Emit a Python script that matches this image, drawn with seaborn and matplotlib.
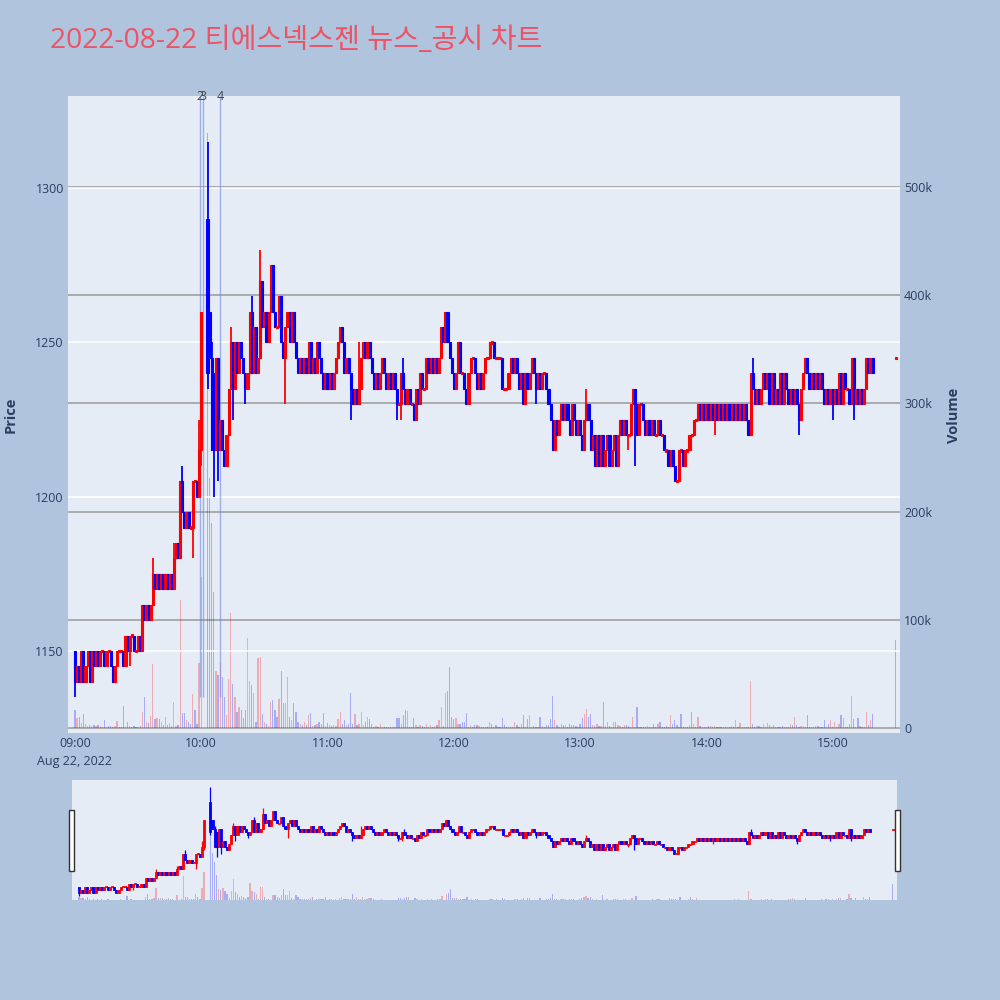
import numpy as np
import pandas as pd
import matplotlib
matplotlib.use("Agg")
import matplotlib.pyplot as plt
import matplotlib.transforms as mtransforms
from matplotlib.patches import Rectangle
import seaborn as sns

sns.set_theme(style="white")
plt.rcParams['font.family'] = ['Open Sans', 'Noto Sans CJK KR', 'DejaVu Sans']

# ---- data: 1-minute candles, minute 0 = 09:00 (closing auction at 15:30) ----
close_09 = [1140, 1145, 1140, 1150, 1140, 1145, 1150, 1140, 1150, 1145,
            1150, 1145, 1150, 1150, 1145, 1150, 1150, 1145, 1140, 1145,
            1150, 1150, 1150, 1145, 1155, 1150, 1155, 1155, 1150, 1150,
            1155, 1150, 1165, 1160, 1165, 1160, 1165, 1175, 1170, 1175,
            1170, 1175, 1170, 1175, 1170, 1175, 1170, 1180, 1185, 1180,
            1205, 1195, 1190, 1195, 1190, 1190, 1205, 1205, 1200, 1215]
close_10 = [1260, np.nan, np.nan, 1240, 1245, 1215, 1215, 1245, 1215, 1225,
            1215, 1210, 1220, 1235, 1250, 1235, 1250, 1240, 1250, 1245,
            1240, 1235, 1240, 1260, 1240, 1255, 1240, 1245, 1270, 1255,
            1260, 1250, 1260, 1275, 1260, 1255, 1255, 1265, 1250, 1245,
            1255, 1260, 1250, 1260, 1250, 1245, 1240, 1245, 1240, 1245,
            1240, 1250, 1240, 1245, 1240, 1250, 1245, 1240, 1235, 1240]
close_11 = [1235, 1240, 1235, 1240, 1245, 1250, 1255, 1250, 1240, 1245,
            1240, 1235, 1230, 1235, 1230, 1235, 1245, 1250, 1245, 1250,
            1245, 1240, 1235, 1240, 1235, 1240, 1245, 1240, 1235, 1240,
            1235, 1240, 1235, 1230, 1230, 1240, 1235, 1230, 1235, 1230,
            1230, 1225, 1235, 1230, 1240, 1235, 1235, 1245, 1240, 1245,
            1240, 1245, 1240, 1245, 1255, 1250, 1260, 1250, 1245, 1240]
close_12 = [1235, 1240, 1250, 1240, 1240, 1235, 1230, 1240, 1245, 1245,
            1240, 1235, 1240, 1235, 1240, 1245, 1245, 1250, 1250, 1245,
            1245, 1245, 1245, 1235, 1235, 1235, 1240, 1245, 1240, 1245,
            1240, 1235, 1240, 1230, 1240, 1235, 1240, 1245, 1240, 1235,
            1240, 1235, 1240, 1240, 1235, 1230, 1225, 1215, 1225, 1220,
            1225, 1230, 1225, 1230, 1225, 1220, 1230, 1225, 1220, 1225]
close_13 = [1220, 1215, 1225, 1230, 1225, 1215, 1220, 1210, 1220, 1210,
            1220, 1210, 1215, 1220, 1210, 1215, 1220, 1210, 1220, 1225,
            1220, 1225, 1220, 1220, 1230, 1235, 1230, 1220, 1230, 1230,
            1225, 1220, 1225, 1220, 1225, 1220, 1220, 1225, 1220, 1220,
            1215, 1215, 1210, 1215, 1210, 1205, 1205, 1215, 1215, 1210,
            1215, 1215, 1220, 1220, 1225, 1225, 1230, 1225, 1230, 1225]
close_14 = [1230, 1225, 1230, 1225, 1230, 1225, 1230, 1225, 1230, 1225,
            1230, 1225, 1230, 1225, 1230, 1225, 1230, 1225, 1230, 1225,
            1220, 1240, 1235, 1230, 1235, 1230, 1235, 1240, 1235, 1240,
            1230, 1240, 1230, 1235, 1230, 1240, 1230, 1240, 1235, 1230,
            1235, 1230, 1235, 1230, 1225, 1235, 1240, 1245, 1240, 1235,
            1240, 1235, 1240, 1235, 1240, 1235, 1230, 1235, 1230, 1235]
close_15 = [1230, 1235, 1230, 1240, 1230, 1240, 1235, 1235, 1230, 1245,
            1230, 1235, 1230, 1235, 1230, 1235, 1245, 1240, 1245, 1240]
close_auction = [1245]

# volume in thousands of shares
vol_09 = [16.5, 9, 10, 5, 13, 4, 2, 3, 2, 3,
          2, 3, 2, 1, 7, 1, 2, 2, 1, 2,
          6.5, 1, 1, 20, 1, 6, 2, 1, 2, 1,
          1, 2, 15, 29, 6, 5, 11, 59, 8, 9,
          8, 6, 3, 10, 3, 5, 2, 24, 2, 3,
          118, 13.5, 14, 7, 6, 4, 31, 16.5, 4, 60]
vol_10 = [140, 0, 0, 550, 231, 189, 126, 53, 49, 60,
          47, 29, 12, 45, 106, 41, 29, 15, 19, 17,
          9, 16.5, 83, 43, 40, 32, 6, 65, 66, 12.5,
          6, 4, 2, 24, 26, 17, 10, 27, 53, 23,
          23, 47, 10, 7, 23, 15, 6, 4, 3, 6,
          3, 12, 14, 2, 3, 4, 6, 4, 14, 2]
vol_11 = [5, 3, 2, 3, 2, 8, 15, 4, 7, 3,
          4, 32, 4, 13, 3, 4, 15, 3, 6, 10,
          8, 4, 1, 2, 1, 4, 1, 1, 1, 1,
          1, 1, 1, 9, 9, 4, 12, 17, 16, 1,
          1, 9, 3, 1, 3, 2, 1, 4, 1, 3,
          1, 2, 3, 7, 19, 2, 32, 34, 56, 10]
vol_12 = [8, 9, 4, 4, 6, 6, 14, 1, 3, 1,
          3, 3, 2, 1, 1, 1, 1, 6, 4, 1,
          3, 1, 1, 9, 3, 1, 1, 1, 1, 6,
          3, 1, 4, 12, 1, 8, 12, 1, 2, 1,
          1, 10, 2, 1, 3, 3, 8, 30, 7, 3,
          1, 4, 3, 3, 1, 4, 3, 3, 2, 1]
vol_13 = [4, 9, 13, 18, 10, 13, 3, 2, 4, 2,
          2, 24, 2, 6, 2, 1, 6, 6, 3, 2,
          1, 3, 3, 2, 1, 10, 1, 19, 1, 1,
          1, 1, 2, 1, 1, 4, 1, 4, 6, 1,
          1, 2, 1, 12, 4, 7, 3, 1, 13, 1,
          1, 1, 3, 15, 4, 1, 10, 2, 1, 1]
vol_14 = [1, 2, 2, 1, 2, 1, 1, 1, 1, 1,
          1, 1, 2, 1, 7, 1, 5, 1, 1, 1,
          1, 43, 4, 1, 2, 2, 1, 4, 1, 5,
          3, 1, 3, 1, 1, 1, 2, 1, 1, 1,
          4, 3, 10, 3, 1, 2, 2, 1, 12, 1,
          1, 1, 2, 2, 1, 1, 7, 1, 4, 7]
vol_15 = [1, 6, 1, 4, 12, 9, 1, 1, 4, 30,
          8, 1, 9, 2, 1, 1, 15, 3, 7, 13]
vol_auction = [81]

open_fix = {0: 1150, 63: 1290, 64: 1260, 66: 1240, 390: 1245}
high_fix = {37: 1180, 47: 1185, 51: 1210, 59: 1225, 63: 1315, 65: 1250, 74: 1255,
            84: 1265, 88: 1280, 135: 1250, 156: 1245, 243: 1235, 322: 1245}
low_fix = {0: 1135, 26: 1145, 56: 1180, 60: 1210, 63: 1235, 66: 1200, 68: 1205,
           75: 1225, 81: 1230, 100: 1230, 131: 1225, 153: 1225, 155: 1225, 219: 1230,
           263: 1215, 266: 1210, 304: 1220, 344: 1220, 360: 1225, 370: 1225}

news_min = [59.4, 60.7, 69.0]
news_lbl = ['2', '3', '4']

hour_ticks = [0, 60, 120, 180, 240, 300, 360]
hour_lbls = ['09:00\nAug 22, 2022', '10:00', '11:00', '12:00', '13:00', '14:00', '15:00']

title = '2022-08-22 티에스넥스젠 뉴스_공시 차트'

# ---- table ----
minutes = list(range(380)) + [390]
close = close_09 + close_10 + close_11 + close_12 + close_13 + close_14 + close_15 + close_auction
vol = vol_09 + vol_10 + vol_11 + vol_12 + vol_13 + vol_14 + vol_15 + vol_auction
df = pd.DataFrame({'m': minutes, 'close': close, 'volume': np.array(vol) * 1000.0})
df = df.dropna(subset=['close']).reset_index(drop=True)
df['open'] = df['close'].shift(1)
for k, v in open_fix.items():
    df.loc[df.m == k, 'open'] = v
df['high'] = df[['open', 'close']].max(axis=1)
df['low'] = df[['open', 'close']].min(axis=1)
for k, v in high_fix.items():
    df.loc[df.m == k, 'high'] = v
for k, v in low_fix.items():
    df.loc[df.m == k, 'low'] = v
prev = df['close'].shift(1)
df['up'] = (df.close > df.open) | ((df.close == df.open) & (df.close >= prev))
df['vup'] = df.close > df.open

RED, BLUE = '#FF0000', '#0000FF'
BG, PLOT_BG, TXT = '#B0C4DE', '#E5ECF6', '#2a3f5f'


def draw_candles(a, d, body_w, wick_lw, edge_lw, doji_h):
    cols = np.where(d['up'], RED, BLUE)
    a.vlines(d['m'], d['low'], d['high'], colors=cols, lw=wick_lw, zorder=3)
    bottom = np.minimum(d['open'], d['close']).values
    height = np.abs(d['close'] - d['open']).values
    doji = height == 0
    bottom = np.where(doji, d['close'].values - doji_h / 2, bottom)
    height = np.where(doji, doji_h, height)
    a.bar(d['m'], height, bottom=bottom, width=body_w, color=cols,
          edgecolor=cols, linewidth=edge_lw, zorder=4)


def draw_volume(a, d, w):
    cols = np.where(d['vup'], RED, BLUE)
    a.bar(d['m'], d['volume'], width=w, color=cols, alpha=0.27, linewidth=0)


XLIM = (-3.3, 392)
fig = plt.figure(figsize=(10, 10), dpi=100, facecolor=BG)

# ---- main chart ----
rect = [0.068, 0.267, 0.832, 0.637]
axv = fig.add_axes(rect)
ax = fig.add_axes(rect, sharex=axv)
ax.set_zorder(axv.get_zorder() + 1)
ax.patch.set_visible(False)
axv.set_facecolor(PLOT_BG)

draw_volume(axv, df, 0.6)
axv.set_ylim(-4600, 584000)
axv.yaxis.tick_right()
axv.yaxis.set_label_position('right')
axv.set_yticks([0, 100000, 200000, 300000, 400000, 500000])
axv.set_yticklabels(['0', '100k', '200k', '300k', '400k', '500k'])
axv.grid(axis='y', color='#999999', lw=1.1)
axv.grid(axis='x', visible=False)

draw_candles(ax, df, 1.0, 1.3, 0.8, 0.7)
ax.set_ylim(1123.4, 1329.9)
ax.set_xlim(*XLIM)
ax.set_yticks([1150, 1200, 1250, 1300])
ax.grid(axis='y', color='white', lw=1.1, zorder=0)
ax.grid(axis='x', visible=False)
ax.set_xticks(hour_ticks)
ax.set_xticklabels(hour_lbls, linespacing=1.5)
axv.tick_params(axis='x', labelbottom=False)

trans = mtransforms.blended_transform_factory(ax.transData, ax.transAxes)
for xm, lb in zip(news_min, news_lbl):
    ax.vlines(xm, 1135, 1329.9, colors='#6f86e0', alpha=0.6, lw=1.0, zorder=2)
    ax.text(xm, 1.0, lb, transform=trans, ha='center', va='center',
            fontsize=9, color='#444444', zorder=6)

for a in (ax, axv):
    for s in a.spines.values():
        s.set_visible(False)
    a.tick_params(length=0, labelsize=9, labelcolor=TXT, pad=3)

fig.text(0.011, 0.585, 'Price', rotation=90, ha='center', va='center',
         fontsize=10.5, fontweight='bold', color=TXT)
fig.text(0.954, 0.585, 'Volume', rotation=90, ha='center', va='center',
         fontsize=10.5, fontweight='bold', color=TXT)
fig.text(0.050, 0.959, title, ha='left', va='center', fontsize=20.3, color='#EC5466')

# ---- range slider ----
srect = [0.072, 0.100, 0.825, 0.120]
sv = fig.add_axes(srect)
sp = fig.add_axes(srect, sharex=sv)
sp.set_zorder(sv.get_zorder() + 1)
sp.patch.set_visible(False)
sv.set_facecolor(PLOT_BG)
draw_volume(sv, df, 0.6)
sv.set_ylim(0, 595000)
draw_candles(sp, df, 1.0, 0.9, 0.6, 1.8)
sp.set_ylim(1128.5, 1326)
sp.set_xlim(*XLIM)
for a in (sp, sv):
    a.set_xticks([])
    a.set_yticks([])
    for s in a.spines.values():
        s.set_visible(False)

for hx in (0.069, 0.895):
    fig.patches.append(Rectangle((hx, 0.129), 0.0045, 0.061, transform=fig.transFigure,
                                 facecolor='white', edgecolor='#333333', lw=1.0))

fig.savefig('out.png', dpi=100, facecolor=BG)
